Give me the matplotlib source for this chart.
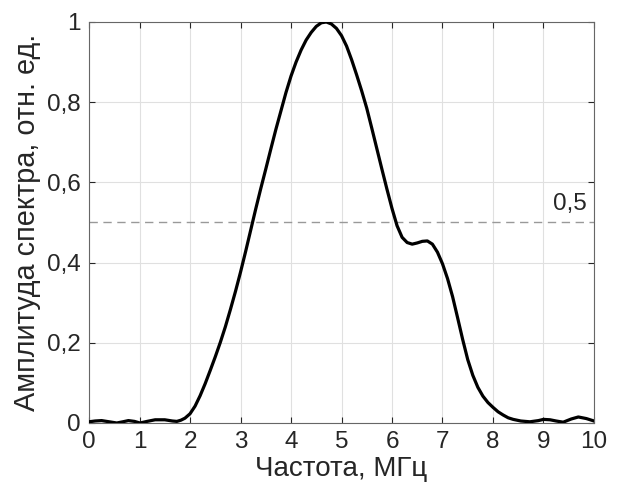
import numpy as np
import matplotlib.pyplot as plt

# частота, МГц и амплитуда спектра
freq = [0.0, 0.12, 0.25, 0.4, 0.55, 0.67, 0.78, 0.9, 1.01, 1.15, 1.31, 1.5, 1.65, 1.74, 1.82, 1.9,
        2.0, 2.1, 2.2, 2.3, 2.4, 2.5, 2.6, 2.7, 2.8, 2.9, 3.0, 3.1, 3.2, 3.3, 3.4, 3.5,
        3.6, 3.7, 3.8, 3.9, 4.0, 4.1, 4.2, 4.3, 4.4, 4.5, 4.6, 4.7, 4.8, 4.9, 5.0, 5.1,
        5.2, 5.3, 5.4, 5.5, 5.6, 5.7, 5.8, 5.9, 6.0, 6.1, 6.2, 6.3, 6.4, 6.5, 6.6, 6.7,
        6.8, 6.9, 7.0, 7.1, 7.2, 7.3, 7.4, 7.5, 7.6, 7.7, 7.8, 7.9, 8.0, 8.1, 8.2, 8.3,
        8.4, 8.55, 8.73, 8.9, 9.0, 9.13, 9.25, 9.39, 9.55, 9.69, 9.85, 10.0]
amp = [0.003, 0.005, 0.006, 0.003, 0.0, 0.003, 0.006, 0.004, 0.0, 0.004, 0.008, 0.008, 0.005, 0.004, 0.007, 0.012,
       0.023, 0.042, 0.068, 0.098, 0.131, 0.165, 0.201, 0.24, 0.283, 0.328, 0.376, 0.427, 0.48, 0.533, 0.584, 0.633,
       0.683, 0.732, 0.778, 0.824, 0.865, 0.9, 0.93, 0.955, 0.974, 0.989, 0.998, 1.0, 0.995, 0.984, 0.966, 0.94,
       0.906, 0.868, 0.828, 0.785, 0.735, 0.684, 0.633, 0.583, 0.535, 0.492, 0.463, 0.45, 0.446, 0.449, 0.453, 0.454,
       0.446, 0.426, 0.397, 0.36, 0.315, 0.262, 0.208, 0.158, 0.119, 0.089, 0.067, 0.051, 0.039, 0.028, 0.02, 0.013,
       0.009, 0.005, 0.003, 0.006, 0.009, 0.008, 0.005, 0.002, 0.01, 0.015, 0.011, 0.005]

level = 0.5
xticks = list(range(0, 11))
yticks = [0, 0.2, 0.4, 0.6, 0.8, 1]
ytick_labels = ['0', '0,2', '0,4', '0,6', '0,8', '1']

plt.rcParams['font.family'] = ['Liberation Sans', 'DejaVu Sans']

fig = plt.figure(figsize=(6.19, 4.93), dpi=100)
ax = fig.add_axes([0.1438, 0.142, 0.8158, 0.8134])

ax.plot(freq, amp, color='black', linewidth=2.3, zorder=3)
ax.axhline(level, color='#999999', linestyle=(0, (6, 4)), linewidth=1.0, zorder=2)
ax.text(9.86, level + 0.018, '0,5', ha='right', va='bottom', fontsize=17.5, color='#262626')

ax.set_xlim(0, 10)
ax.set_ylim(0, 1)
ax.set_xticks(xticks)
ax.set_yticks(yticks)
ax.set_yticklabels(ytick_labels)
ax.tick_params(direction='in', top=True, right=True, labelsize=17.5, colors='#262626',
               length=4, width=0.8, pad=6)
ax.grid(True, color='#e0e0e0', linewidth=0.8)
ax.set_axisbelow(True)
for s in ax.spines.values():
    s.set_color('#666666')
    s.set_linewidth(0.8)

ax.set_xlabel('Частота, МГц', fontsize=20, color='#262626', labelpad=2)
ax.set_ylabel('Амплитуда спектра, отн. ед.', fontsize=20.8, color='#262626', labelpad=4)

fig.savefig('out.png', dpi=100)
